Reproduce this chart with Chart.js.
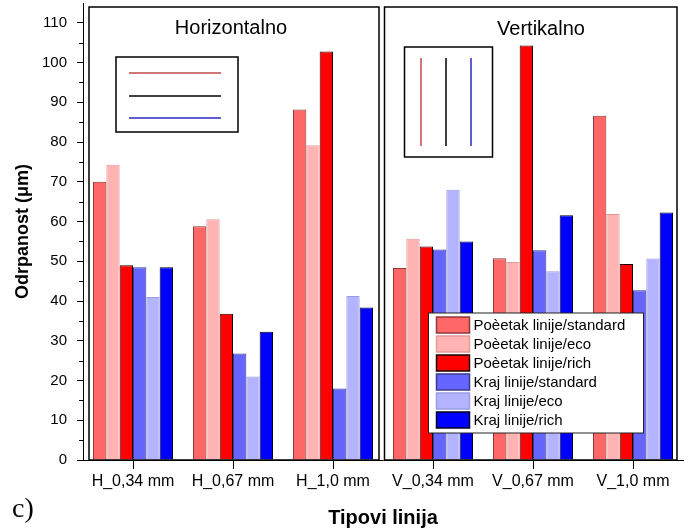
<!DOCTYPE html>
<html>
<head>
<meta charset="utf-8">
<script src="https://cdn.jsdelivr.net/npm/chart.js@4.4.1/dist/chart.umd.min.js"></script>
<style>
  html, body { margin: 0; padding: 0; background: #fff; }
  #wrap { position: relative; width: 685px; height: 530px; }
  #cLabel { position: absolute; left: 12px; top: 492px; font: 28px "Liberation Serif", serif; color: #000; }
</style>
</head>
<body>
<div id="wrap">
  <canvas id="chart" width="685" height="530"></canvas>
  <div id="cLabel">c)</div>
</div>
<script>
// data (µm)
const categories = ['H_0,34 mm', 'H_0,67 mm', 'H_1,0 mm', 'V_0,34 mm', 'V_0,67 mm', 'V_1,0 mm'];
const pocetakStandard = [70.0, 58.8, 88.2, 48.3, 50.8, 86.6];
const pocetakEco = [74.3, 60.6, 79.2, 55.7, 49.8, 61.9];
const pocetakRich = [49.0, 36.8, 102.8, 53.7, 104.3, 49.3];
const krajStandard = [48.5, 26.8, 18.0, 53.0, 52.8, 42.7];
const krajEco = [41.0, 21.0, 41.3, 68.0, 47.5, 50.7];
const krajRich = [48.5, 32.3, 38.4, 55.0, 61.6, 62.3];
const yTicks = [0, 10, 20, 30, 40, 50, 60, 70, 80, 90, 100, 110];
const panelTitles = ['Horizontalno', 'Vertikalno'];

const FONT = '"Liberation Sans", Arial, sans-serif';

function makeSet(label, values, fill, border) {
    return {
        label: label,
        data: values,
        backgroundColor: fill,
        borderColor: border,
        borderWidth: 1,
        barPercentage: 1.0,
        categoryPercentage: 0.8
    };
}

// panels, insets and legend drawn on top of the bars
const decorations = {
    id: 'decorations',
    afterDatasetsDraw(chart) {
        const ctx = chart.ctx;
        const ca = chart.chartArea;
        const x = chart.scales.x;
        const y = chart.scales.y;
        const cw = x.getPixelForValue(1) - x.getPixelForValue(0);
        const split = x.getPixelForValue(2) + cw / 2;

        ctx.save();
        ctx.strokeStyle = '#000';
        ctx.lineWidth = 1;

        // minor ticks on y axis
        ctx.beginPath();
        for (let v = 5; v < y.max; v += 10) {
            const py = Math.round(y.getPixelForValue(v)) + 0.5;
            ctx.moveTo(ca.left - 4, py);
            ctx.lineTo(ca.left, py);
        }
        ctx.stroke();

        // two panel frames
        ctx.lineWidth = 1.5;
        ctx.strokeRect(ca.left + 6, ca.top + 4, split - 4 - (ca.left + 6), ca.bottom - ca.top - 4);
        ctx.strokeRect(split + 1.5, ca.top + 4, ca.right - 6 - (split + 1.5), ca.bottom - ca.top - 4);

        // panel titles
        ctx.fillStyle = '#000';
        ctx.font = '20px ' + FONT;
        ctx.textAlign = 'center';
        ctx.textBaseline = 'alphabetic';
        ctx.fillText(panelTitles[0], ca.left + 148, ca.top + 31);
        ctx.fillText(panelTitles[1], split + 158, ca.top + 31.5);

        // inset with horizontal lines
        ctx.lineWidth = 1.5;
        ctx.strokeRect(ca.left + 33, ca.top + 54, 122, 75);
        const lineCols = ['#c04848', '#000000', '#2828c0'];
        [70, 93, 115].forEach((dy, i) => {
            ctx.strokeStyle = lineCols[i];
            ctx.beginPath();
            ctx.moveTo(ca.left + 46, ca.top + dy);
            ctx.lineTo(ca.left + 138, ca.top + dy);
            ctx.stroke();
        });

        // inset with vertical lines
        ctx.strokeStyle = '#000';
        ctx.strokeRect(split + 21.5, ca.top + 44, 88, 110);
        [38, 63, 88].forEach((dx, i) => {
            ctx.strokeStyle = lineCols[i];
            ctx.beginPath();
            ctx.moveTo(split + dx, ca.top + 55);
            ctx.lineTo(split + dx, ca.top + 143);
            ctx.stroke();
        });

        // legend box
        const lx = split + 45.5, ly = ca.top + 310, lw = 215, lh = 120;
        ctx.fillStyle = '#fff';
        ctx.fillRect(lx, ly, lw, lh);
        ctx.strokeStyle = '#222';
        ctx.lineWidth = 1;
        ctx.strokeRect(lx, ly, lw, lh);
        ctx.font = '15px ' + FONT;
        ctx.textAlign = 'left';
        ctx.textBaseline = 'middle';
        chart.data.datasets.forEach((ds, i) => {
            const cy = ly + 12 + i * 19;
            ctx.fillStyle = ds.backgroundColor;
            ctx.fillRect(lx + 8, cy - 8, 33, 16);
            ctx.strokeStyle = ds.borderColor;
            ctx.lineWidth = 1.5;
            ctx.strokeRect(lx + 8, cy - 8, 33, 16);
            ctx.fillStyle = '#000';
            ctx.fillText(ds.label, lx + 45, cy + 1);
        });
        ctx.restore();
    }
};

const ctx = document.getElementById('chart').getContext('2d');
new Chart(ctx, {
    type: 'bar',
    data: {
        labels: categories,
        datasets: [
            makeSet('Poèetak linije/standard', pocetakStandard, '#ff6666', '#8c3a3a'),
            makeSet('Poèetak linije/eco', pocetakEco, '#ffb3b3', '#e59a9a'),
            makeSet('Poèetak linije/rich', pocetakRich, '#ff0000', '#1a0000'),
            makeSet('Kraj linije/standard', krajStandard, '#6666ff', '#3a3a8c'),
            makeSet('Kraj linije/eco', krajEco, '#b3b3ff', '#9a9ae5'),
            makeSet('Kraj linije/rich', krajRich, '#0000ff', '#00001a')
        ]
    },
    options: {
        responsive: false,
        animation: false,
        layout: { padding: { top: 3, right: 2, bottom: 0, left: 0 } },
        plugins: { legend: { display: false }, tooltip: { enabled: false } },
        scales: {
            x: {
                afterFit(scale) { scale.height = 70; scale.paddingLeft = 0; scale.paddingRight = 0; },
                grid: { offset: false, drawOnChartArea: false, color: '#000', tickLength: 9 },
                border: { color: '#000', width: 1 },
                ticks: { color: '#000', font: { family: FONT, size: 16 }, padding: 3, maxRotation: 0, autoSkip: false },
                title: { display: true, text: 'Tipovi linija', color: '#000', font: { family: FONT, size: 20, weight: 'bold' }, padding: { top: 0, bottom: 0 } }
            },
            y: {
                min: 0,
                max: 115,
                afterFit(scale) { scale.width = 83; scale.paddingTop = 0; scale.paddingBottom = 0; },
                afterBuildTicks(scale) { scale.ticks = yTicks.map(v => ({ value: v })); },
                grid: { drawOnChartArea: false, color: '#000', tickLength: 6 },
                border: { color: '#000', width: 1 },
                ticks: { color: '#000', font: { family: FONT, size: 15 }, padding: 10 },
                title: { display: true, text: 'Odrpanost (μm)', color: '#000', font: { family: FONT, size: 18, weight: 'bold' }, padding: { top: 12, bottom: 0 } }
            }
        }
    },
    plugins: [decorations]
});
</script>
</body>
</html>
